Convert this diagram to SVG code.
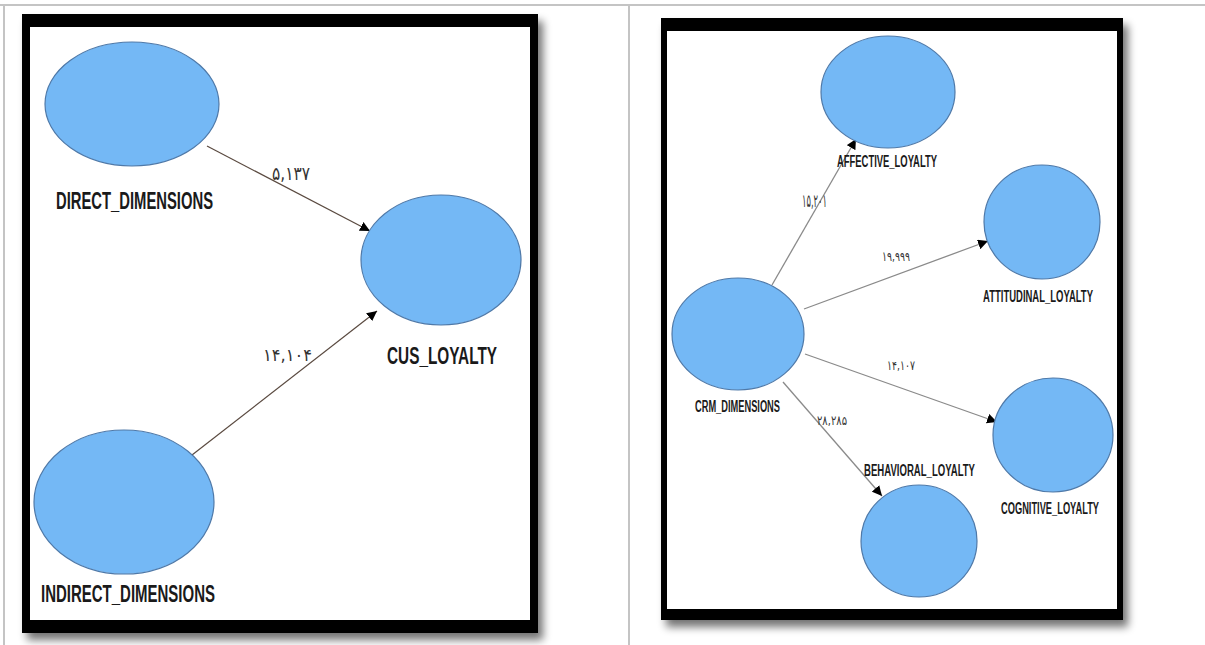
<svg xmlns="http://www.w3.org/2000/svg" width="1205" height="645" viewBox="0 0 1205 645">
  <defs>
    <filter id="shadow" x="-10%" y="-10%" width="125%" height="125%">
      <feGaussianBlur in="SourceAlpha" stdDeviation="4"/>
      <feOffset dx="5" dy="7" result="b"/>
      <feComponentTransfer><feFuncA type="linear" slope="0.55"/></feComponentTransfer>
      <feMerge><feMergeNode/><feMergeNode in="SourceGraphic"/></feMerge>
    </filter>
    <marker id="arrow" viewBox="0 0 10 10" refX="10" refY="5" markerWidth="10" markerHeight="10" markerUnits="userSpaceOnUse" orient="auto">
      <path d="M0,0 L10,5 L0,10 Z" fill="#000"/>
    </marker>
    <style>
      .grid { stroke: #c4c4c4; stroke-width: 2; fill: none; }
      .frame { fill: #000; }
      .paper { fill: #fff; }
      .node { fill: #74b8f5; stroke: #4f79a8; stroke-width: 1.2; }
      .big { font-family: "Liberation Sans", Arial, sans-serif; font-weight: bold; font-size: 23px; fill: #1a1a1a; }
      .small { font-family: "Liberation Sans", Arial, sans-serif; font-weight: bold; font-size: 16px; fill: #1a1a1a; }
      .num { font-family: "DejaVu Sans", sans-serif; fill: #333; }
      .edgeL { stroke: #5a4a40; stroke-width: 1.2; fill: none; }
      .edgeR { stroke: #8a8a8a; stroke-width: 1.3; fill: none; }
    </style>
  </defs>

  <!-- table rules -->
  <g id="table">
    <line class="grid" x1="0" y1="5" x2="1205" y2="5"/>
    <line class="grid" x1="4" y1="5" x2="4" y2="645"/>
    <line class="grid" x1="629" y1="5" x2="629" y2="645"/>
  </g>

  <!-- left model frame -->
  <g id="frame-left">
    <rect class="frame" x="22" y="14" width="516" height="619" filter="url(#shadow)"/>
    <rect class="paper" x="30" y="27" width="500" height="593"/>
  </g>

  <!-- right model frame -->
  <g id="frame-right">
    <rect class="frame" x="661" y="18" width="462" height="602" filter="url(#shadow)"/>
    <rect class="paper" x="667" y="31" width="450" height="578"/>
  </g>

  <!-- connectors -->
  <g id="connectors">
    <line class="edgeL" x1="207" y1="146" x2="370" y2="231" marker-end="url(#arrow)"/>
    <line class="edgeL" x1="192" y1="455" x2="377" y2="311" marker-end="url(#arrow)"/>
    <line class="edgeR" x1="772" y1="285" x2="856" y2="139" marker-end="url(#arrow)"/>
    <line class="edgeR" x1="804" y1="309" x2="988" y2="241" marker-end="url(#arrow)"/>
    <line class="edgeR" x1="805" y1="354" x2="997" y2="422" marker-end="url(#arrow)"/>
    <line class="edgeR" x1="783" y1="382" x2="882" y2="496" marker-end="url(#arrow)"/>
  </g>

  <!-- path coefficients -->
  <g id="coefficients">
    <text class="num" x="272" y="180" font-size="19" textLength="38" lengthAdjust="spacingAndGlyphs">۵,۱۳۷</text>
    <text class="num" x="263" y="361" font-size="17" textLength="49" lengthAdjust="spacingAndGlyphs">۱۴,۱۰۴</text>
    <text class="num" x="802" y="207" font-size="18" textLength="25" lengthAdjust="spacingAndGlyphs">۱۵,۲۰۱</text>
    <text class="num" x="882" y="261" font-size="13" textLength="28" lengthAdjust="spacingAndGlyphs">۱۹,۹۹۹</text>
    <text class="num" x="887" y="370" font-size="13" textLength="28" lengthAdjust="spacingAndGlyphs">۱۴,۱۰۷</text>
    <text class="num" x="817" y="425" font-size="13" textLength="30" lengthAdjust="spacingAndGlyphs">۲۸,۲۸۵</text>
  </g>

  <!-- left model nodes -->
  <g id="direct-dimensions">
    <ellipse class="node" cx="132" cy="104" rx="87" ry="62"/>
    <text class="big" x="56" y="209" textLength="157" lengthAdjust="spacingAndGlyphs">DIRECT_DIMENSIONS</text>
  </g>
  <g id="cus-loyalty">
    <ellipse class="node" cx="441" cy="260" rx="80" ry="65"/>
    <text class="big" x="387" y="364" textLength="110" lengthAdjust="spacingAndGlyphs">CUS_LOYALTY</text>
  </g>
  <g id="indirect-dimensions">
    <ellipse class="node" cx="124" cy="502" rx="90" ry="72"/>
    <text class="big" x="41" y="602" textLength="174" lengthAdjust="spacingAndGlyphs">INDIRECT_DIMENSIONS</text>
  </g>

  <!-- right model nodes -->
  <g id="affective-loyalty">
    <ellipse class="node" cx="888" cy="92" rx="67" ry="56"/>
    <text class="small" x="837" y="167" textLength="100" lengthAdjust="spacingAndGlyphs">AFFECTIVE_LOYALTY</text>
  </g>
  <g id="attitudinal-loyalty">
    <ellipse class="node" cx="1042" cy="222" rx="58" ry="57"/>
    <text class="small" x="983" y="302" textLength="110" lengthAdjust="spacingAndGlyphs">ATTITUDINAL_LOYALTY</text>
  </g>
  <g id="crm-dimensions">
    <ellipse class="node" cx="738" cy="334" rx="66" ry="56"/>
    <text class="small" x="695" y="412" textLength="85" lengthAdjust="spacingAndGlyphs">CRM_DIMENSIONS</text>
  </g>
  <g id="cognitive-loyalty">
    <ellipse class="node" cx="1053" cy="435" rx="60" ry="57"/>
    <text class="small" x="1001" y="514" textLength="98" lengthAdjust="spacingAndGlyphs">COGNITIVE_LOYALTY</text>
  </g>
  <g id="behavioral-loyalty">
    <ellipse class="node" cx="919" cy="541" rx="58" ry="56"/>
    <text class="small" x="864" y="476" textLength="111" lengthAdjust="spacingAndGlyphs">BEHAVIORAL_LOYALTY</text>
  </g>
</svg>
